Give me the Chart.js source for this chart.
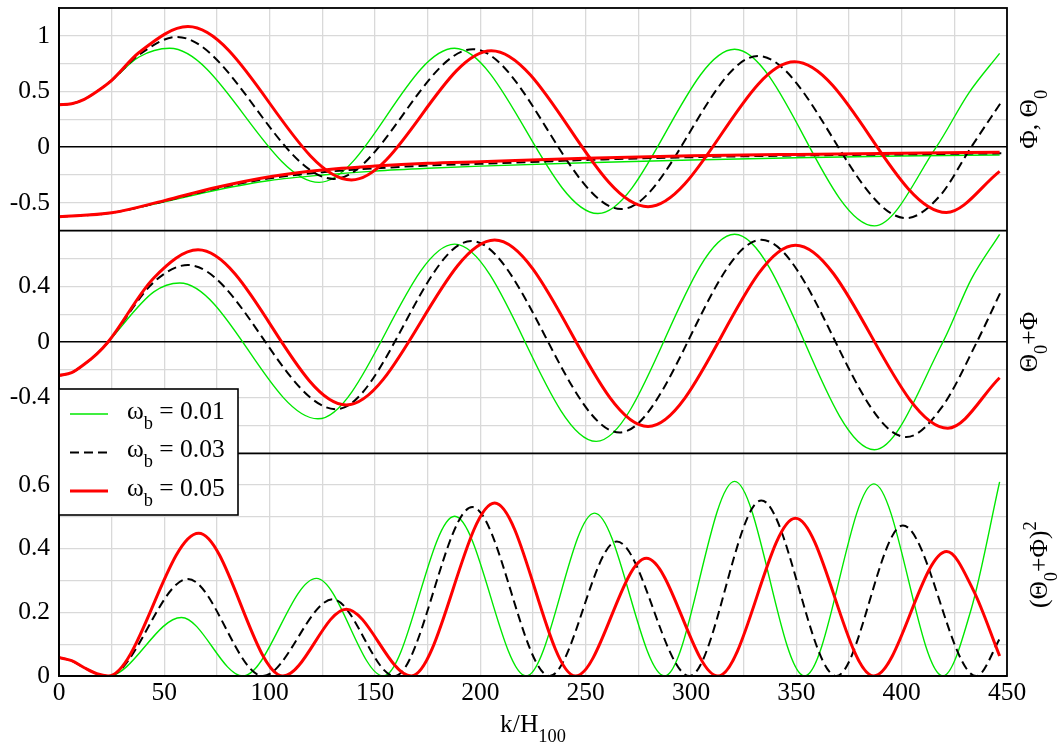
<!DOCTYPE html>
<html lang="en">
<head>
<meta charset="UTF-8">
<title>Theta0, Phi and (Theta0+Phi)^2 vs k/H100</title>
<script src="https://cdn.jsdelivr.net/npm/chart.js@4.4.0/dist/chart.umd.min.js"></script>
<style>
  html, body { margin: 0; padding: 0; background: #fff; }
  #wrap { width: 1058px; height: 747px; }
</style>
</head>
<body>
<div id="wrap"><canvas id="chart" width="1058" height="747"></canvas></div>
<script>
const FONT = "'Liberation Serif', 'Times New Roman', serif";
const TICK_SIZE = 25.5;

// x axis: k/H100
const kMin = 0, kMax = 450, kStep = 25, kLabelStep = 50;

// panel ranges: [min, max, grid step, label step]
const rangeTheta = [-0.75, 1.25, 0.25, 0.5];
const rangeSum = [-0.8, 0.8, 0.2, 0.4];
const rangeSq = [0, 0.7, 0.1, 0.2];

const wbValues = ['0.01', '0.03', '0.05'];

// panel 1, Theta_0 (oscillating), points [k, value]
const theta0Wb01 = [[0,0.38],[6,0.39],[12,0.43],[18,0.50],[25,0.60],[38,0.81],[52.5,0.888],[123.5,-0.316],[187.8,0.888],[255.8,-0.596],[320.7,0.879],[387.1,-0.707],[416.4,0],[432,0.49],[446.5,0.843]];
const theta0Wb03 = [[0,0.38],[6,0.39],[12,0.43],[18,0.50],[25,0.60],[38,0.83],[56,0.99],[130.5,-0.285],[196.5,0.88],[266.9,-0.556],[331.8,0.819],[402.2,-0.637],[418,-0.44],[433,0],[447.3,0.406]];
const theta0Wb05 = [[0,0.38],[6,0.39],[12,0.43],[18,0.50],[25,0.60],[38,0.85],[61.2,1.083],[138.8,-0.294],[205.2,0.867],[279.6,-0.535],[349.2,0.767],[421.2,-0.587],[446.5,-0.217]];

// panel 1, Phi (slowly rising)
const phiWb01 = [[0,-0.625],[25,-0.59],[50,-0.49],[75,-0.385],[100,-0.30],[125,-0.25],[150,-0.215],[175,-0.19],[200,-0.17],[250,-0.14],[300,-0.115],[350,-0.095],[400,-0.08],[446.5,-0.07]];
const phiWb03 = [[0,-0.625],[25,-0.59],[50,-0.485],[75,-0.37],[100,-0.28],[125,-0.225],[150,-0.19],[175,-0.165],[200,-0.15],[250,-0.115],[300,-0.09],[350,-0.075],[400,-0.065],[447.3,-0.055]];
const phiWb05 = [[0,-0.625],[25,-0.59],[50,-0.48],[75,-0.36],[100,-0.265],[125,-0.205],[150,-0.17],[175,-0.145],[200,-0.13],[250,-0.10],[300,-0.078],[350,-0.065],[400,-0.055],[446.5,-0.045]];

// panel 2, Theta_0 + Phi
const sumWb01 = [[0,-0.24],[6,-0.22],[12,-0.16],[18,-0.085],[23.3,0],[45,0.36],[57.3,0.424],[122.9,-0.552],[187.8,0.703],[255,-0.714],[320.7,0.774],[387.1,-0.774],[419.6,0],[433,0.45],[446.5,0.774]];
const sumWb03 = [[0,-0.24],[6,-0.22],[12,-0.16],[18,-0.085],[23.3,0],[45,0.43],[61.2,0.553],[131.6,-0.483],[195.7,0.726],[266.1,-0.65],[333.4,0.734],[402.2,-0.683],[419,-0.47],[435.7,0],[446.8,0.353]];
const sumWb05 = [[0,-0.24],[6,-0.22],[12,-0.16],[18,-0.085],[23.3,0],[45,0.46],[66,0.662],[136.4,-0.452],[206.8,0.733],[279.6,-0.607],[349.6,0.696],[421.9,-0.619],[446.5,-0.257]];

// panel 3, (Theta_0 + Phi)^2
const sqWb01 = [[0,0.058],[6,0.048],[12,0.026],[18,0.007],[23.3,0],[58.1,0.184],[87.3,0],[122.2,0.307],[154,0],[187.8,0.502],[221.8,0],[254.2,0.512],[287.5,0],[320.7,0.612],[353.9,0],[386.8,0.604],[419.6,0],[433,0.21],[446.5,0.61]];
const sqWb03 = [[0,0.058],[6,0.048],[12,0.026],[18,0.007],[23.3,0],[61.2,0.305],[96.8,0],[130,0.241],[159.3,0],[196.2,0.531],[232.9,0],[264.8,0.423],[299.3,0],[333.4,0.552],[369,0],[400.6,0.473],[435.4,0],[447.3,0.126]];
const sqWb05 = [[0,0.058],[6,0.048],[12,0.026],[18,0.007],[23.3,0],[66.3,0.449],[106.3,0],[136.4,0.21],[167.2,0],[206.8,0.544],[245.2,0],[278.8,0.37],[312.8,0],[349.6,0.496],[386.8,0],[421.4,0.391],[434,0.27],[446.5,0.063]];

const styles = {
  '0.01': { color: '#00e800', width: 1.4, dash: [], order: 3 },
  '0.03': { color: '#000000', width: 2, dash: [9, 5], order: 2 },
  '0.05': { color: '#ff0000', width: 3, dash: [], order: 1 }
};

function makeSet(points, wb, axis) {
  const s = styles[wb];
  return {
    label: 'wb=' + wb,
    data: points.map(([x, y]) => ({ x, y })),
    yAxisID: axis,
    borderColor: s.color,
    borderWidth: s.width,
    borderDash: s.dash,
    order: s.order,
    pointRadius: 0,
    fill: false,
    cubicInterpolationMode: 'monotone'
  };
}

function isMultiple(v, step) {
  const q = v / step;
  return Math.abs(q - Math.round(q)) < 1e-6;
}

function yScale(range) {
  const [min, max, step, labelStep] = range;
  return {
    type: 'linear',
    position: 'left',
    stack: 'panels',
    stackWeight: 1,
    min, max,
    ticks: {
      stepSize: step,
      autoSkip: false,
      padding: 9,
      color: '#000',
      font: { family: FONT, size: TICK_SIZE },
      callback: v => {
        const r = Math.round(v * 1000) / 1000;
        if (Math.abs(r - max) < 1e-9) return '';
        if (Math.abs(r - min) < 1e-9 && min < 0) return '';
        return isMultiple(r, labelStep) ? String(r) : '';
      }
    },
    grid: {
      drawTicks: false,
      color: c => Math.abs(c.tick.value) < 1e-9 ? '#000' : '#d9d9d9',
      lineWidth: c => Math.abs(c.tick.value) < 1e-9 ? 1.6 : 1.3
    },
    border: { display: true, color: '#000', width: 1.8 },
    afterFit: s => { s.width = 59; s.paddingTop = 0; s.paddingBottom = 0; }
  };
}

// draws text pieces with sub/superscripts, returns width
function drawRich(ctx, parts, x, y, size, measureOnly) {
  let cx = x;
  parts.forEach(([t, kind]) => {
    const fs = kind ? size * 0.72 : size;
    ctx.font = fs + 'px ' + FONT;
    const dy = kind === 'sub' ? size * 0.4 : kind === 'sup' ? -size * 0.42 : 0;
    if (!measureOnly) ctx.fillText(t, cx, y + dy);
    cx += ctx.measureText(t).width;
  });
  return cx - x;
}

function drawRotated(ctx, parts, xBase, yCenter, size) {
  const w = drawRich(ctx, parts, 0, 0, size, true);
  ctx.save();
  ctx.translate(xBase, yCenter);
  ctx.rotate(-Math.PI / 2);
  drawRich(ctx, parts, -w / 2, 0, size);
  ctx.restore();
}

const framePlugin = {
  id: 'frame',
  afterDraw(chart) {
    const { ctx, chartArea: a, scales } = chart;
    ctx.save();
    ctx.strokeStyle = '#000';
    ctx.lineWidth = 1.8;
    ctx.strokeRect(a.left, a.top, a.right - a.left, a.bottom - a.top);
    [scales.ySum.top, scales.ySq.top].forEach(y => {
      ctx.beginPath();
      ctx.moveTo(a.left, y);
      ctx.lineTo(a.right, y);
      ctx.stroke();
    });

    ctx.fillStyle = '#000';
    ctx.textAlign = 'left';
    ctx.textBaseline = 'alphabetic';

    // x axis title
    const xt = [['k/H', ''], ['100', 'sub']];
    const xw = drawRich(ctx, xt, 0, 0, TICK_SIZE, true);
    drawRich(ctx, xt, (a.left + a.right) / 2 - xw / 2, 732, TICK_SIZE);

    // right side panel titles
    const mid = s => (s.top + s.bottom) / 2;
    drawRotated(ctx, [['\u03A6, \u0398', ''], ['0', 'sub']], a.right + 30, mid(scales.yTheta), TICK_SIZE);
    drawRotated(ctx, [['\u0398', ''], ['0', 'sub'], ['+\u03A6', '']], a.right + 30, mid(scales.ySum), TICK_SIZE);
    drawRotated(ctx, [['(\u0398', ''], ['0', 'sub'], ['+\u03A6)', ''], ['2', 'sup']], a.right + 40, mid(scales.ySq), TICK_SIZE);

    // legend box
    const lx = a.left, ly = 389, lw = 179, lh = 126;
    ctx.fillStyle = '#fff';
    ctx.fillRect(lx, ly, lw, lh);
    ctx.lineWidth = 1.6;
    ctx.strokeRect(lx, ly, lw, lh);
    wbValues.forEach((wb, i) => {
      const s = styles[wb];
      const yy = ly + 25 + i * 38.5;
      ctx.save();
      ctx.strokeStyle = s.color;
      ctx.lineWidth = s.width;
      ctx.setLineDash(s.dash);
      ctx.beginPath();
      ctx.moveTo(lx + 11, yy);
      ctx.lineTo(lx + 49, yy);
      ctx.stroke();
      ctx.restore();
      ctx.fillStyle = '#000';
      drawRich(ctx, [['\u03C9', ''], ['b', 'sub'], [' = ' + wb, '']], lx + 68, yy + 4.5, TICK_SIZE);
    });
    ctx.restore();
  }
};

const datasets = [
  makeSet(theta0Wb05, '0.05', 'yTheta'),
  makeSet(theta0Wb03, '0.03', 'yTheta'),
  makeSet(theta0Wb01, '0.01', 'yTheta'),
  makeSet(phiWb05, '0.05', 'yTheta'),
  makeSet(phiWb03, '0.03', 'yTheta'),
  makeSet(phiWb01, '0.01', 'yTheta'),
  makeSet(sumWb05, '0.05', 'ySum'),
  makeSet(sumWb03, '0.03', 'ySum'),
  makeSet(sumWb01, '0.01', 'ySum'),
  makeSet(sqWb05, '0.05', 'ySq'),
  makeSet(sqWb03, '0.03', 'ySq'),
  makeSet(sqWb01, '0.01', 'ySq')
];

new Chart(document.getElementById('chart'), {
  type: 'line',
  data: { datasets },
  options: {
    responsive: false,
    devicePixelRatio: 1,
    animation: false,
    layout: { padding: { top: 8, right: 51, left: 0, bottom: 0 } },
    plugins: { legend: { display: false }, tooltip: { enabled: false } },
    scales: {
      x: {
        type: 'linear',
        position: 'bottom',
        min: kMin, max: kMax,
        ticks: {
          stepSize: kStep,
          autoSkip: false,
          maxRotation: 0,
          padding: 2,
          color: '#000',
          font: { family: FONT, size: TICK_SIZE },
          callback: v => isMultiple(v, kLabelStep) ? String(v) : ''
        },
        grid: { drawTicks: false, color: '#d9d9d9', lineWidth: 1.3 },
        border: { display: true, color: '#000', width: 1.8 },
        afterFit: s => { s.height = 71; s.paddingLeft = 0; s.paddingRight = 0; }
      },
      ySq: yScale(rangeSq),
      ySum: yScale(rangeSum),
      yTheta: yScale(rangeTheta)
    }
  },
  plugins: [framePlugin]
});
</script>
</body>
</html>
